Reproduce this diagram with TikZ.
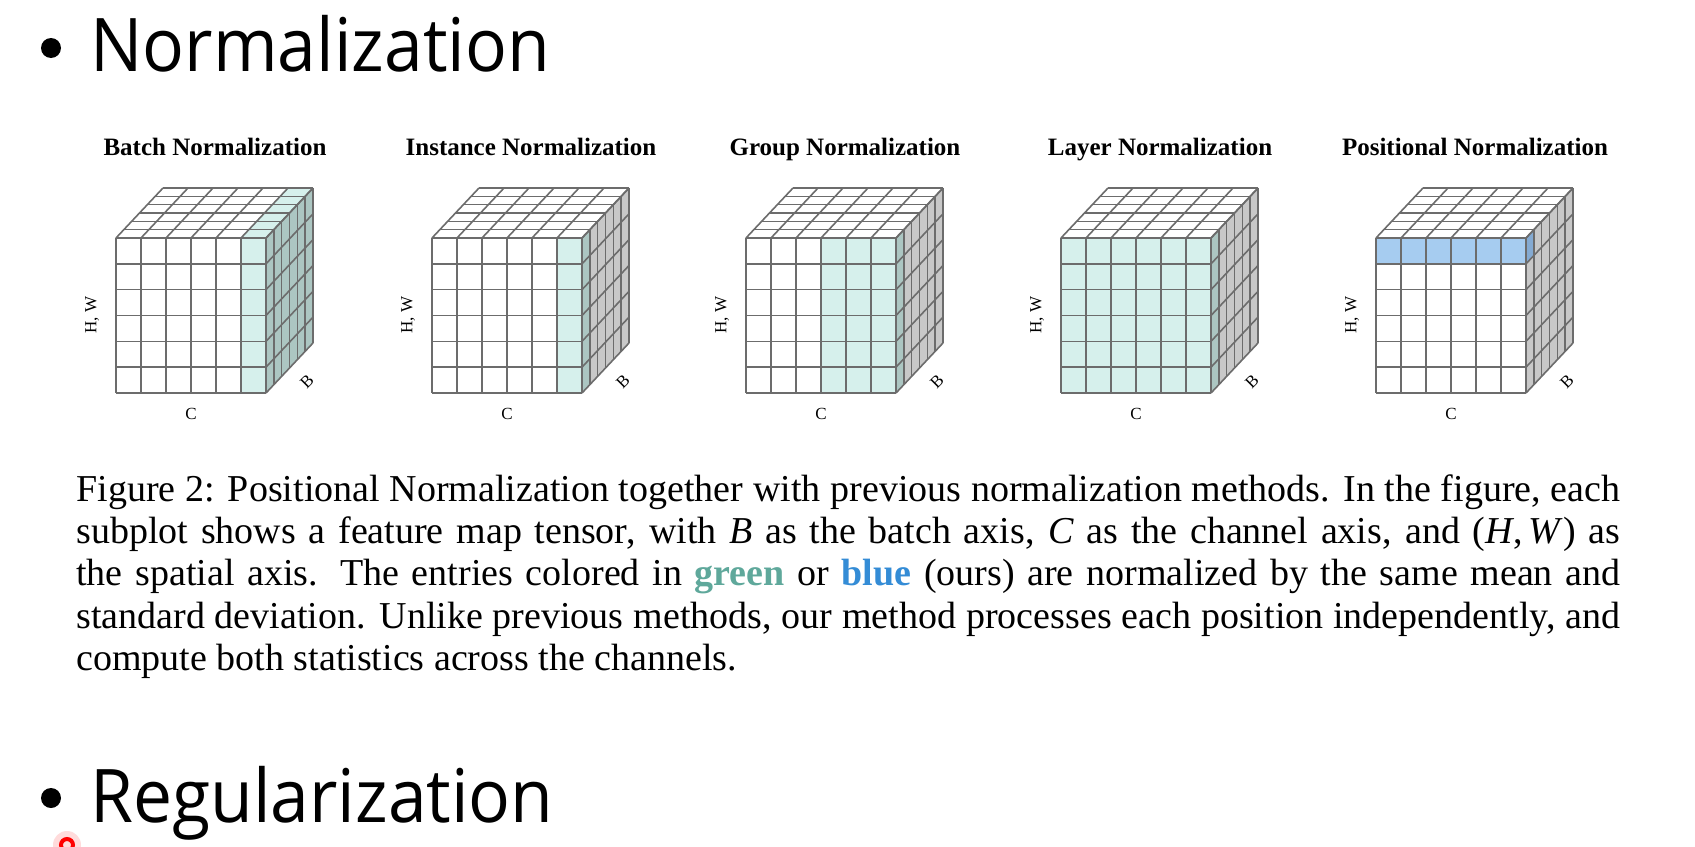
\documentclass[tikz,border=0pt]{standalone}
\usepackage{fontspec}
\usepackage{graphicx}
\setmainfont{Liberation Serif}
\newfontfamily\headfont{Open Sans}
\usetikzlibrary{positioning}

\definecolor{gridgray}{RGB}{108,108,108}
\definecolor{sidegray}{RGB}{200,200,200}
\definecolor{normgreen}{RGB}{214,240,236}
\definecolor{greenside}{RGB}{172,198,194}
\definecolor{normblue}{RGB}{166,204,240}
\definecolor{blueside}{RGB}{132,170,210}
\definecolor{capgreen}{RGB}{95,168,155}
\definecolor{capblue}{RGB}{52,140,214}

\tikzset{
  gridline/.style={draw=gridgray, line width=0.8pt},
  cubetitle/.style={font=\bfseries\fontsize{12.5}{15}\selectfont, anchor=base, inner sep=0pt},
  axislabel/.style={font=\fontsize{8.5}{10}\selectfont, inner sep=0pt},
  heading/.style={font=\headfont\fontsize{37}{44}\selectfont, anchor=base west, inner sep=0pt},
}

% one feature map tensor: #1 left x, #2 name, #3 title, #4 coloured cells
\newcommand\tensorcube[4]{%
  \begin{scope}[shift={(#1,238)}]
    \fill[white] (0,0) rectangle (150,155);
    \fill[white] (0,0) -- (150,0) -- ++(47,-50) -- (47,-50) -- cycle;
    \fill[sidegray] (150,0) -- ++(47,-50) -- ++(0,155) -- (150,155) -- cycle;
    #4
    \foreach \k in {0,...,6} {
      \draw[gridline] ({\k*25},0) -- ({\k*25},155);
      \draw[gridline] (0,{\k*155/6}) -- (150,{\k*155/6});
      \draw[gridline] ({\k*25},0) -- ++(47,-50);
      \draw[gridline] ({\k*47/6},{-\k*50/6}) -- ++(150,0);
      \draw[gridline] ({150+\k*47/6},{-\k*50/6}) -- ++(0,155);
      \draw[gridline] (150,{\k*155/6}) -- ++(47,-50);
    }
    \node[cubetitle] (#2-title) at (99,-83) {#3};
    \node[axislabel, rotate=90] (#2-hw) at (-24,77) {H, W};
    \node[axislabel] (#2-c) at (75,176) {C};
    \node[axislabel, rotate=45] (#2-b) at (191,144) {B};
  \end{scope}}

\begin{document}
\begin{tikzpicture}[x=0.5pt, y=-0.5pt]
\useasboundingbox (0,0) rectangle (1695,846);
\fill[white] (0,0) rectangle (1695,846);

% slide headings
\fill (51,48) circle[radius=5pt];
\node[heading] (norm) at (90,71) {\scalebox{0.94}[1]{Normalization}};
\fill (51,798) circle[radius=5pt];
\node[heading] (reg) at (90,822) {\scalebox{0.94}[1]{Regularization}};

% the five tensors
\tensorcube{116}{bn}{Batch Normalization}{%
  \fill[normgreen] (125,0) rectangle (150,155);
  \fill[normgreen] (125,0) -- (150,0) -- ++(47,-50) -- ++(-25,0) -- cycle;
  \fill[greenside] (150,0) -- ++(47,-50) -- ++(0,155) -- (150,155) -- cycle;}
\tensorcube{432}{in}{Instance Normalization}{%
  \fill[normgreen] (125,0) rectangle (150,155);
  \fill[greenside] (150,0) -- ++({47/6},{-50/6}) -- ++(0,155) -- (150,155) -- cycle;}
\tensorcube{746}{gn}{Group Normalization}{%
  \fill[normgreen] (75,0) rectangle (150,155);
  \fill[greenside] (150,0) -- ++({47/6},{-50/6}) -- ++(0,155) -- (150,155) -- cycle;}
\tensorcube{1061}{ln}{Layer Normalization}{%
  \fill[normgreen] (0,0) rectangle (150,155);
  \fill[greenside] (150,0) -- ++({47/6},{-50/6}) -- ++(0,155) -- (150,155) -- cycle;}
\tensorcube{1376}{pn}{Positional Normalization}{%
  \fill[normblue] (0,0) rectangle (150,{155/6});
  \fill[blueside] (150,0) -- ++({47/6},{-50/6}) -- ++(0,{155/6}) -- (150,{155/6}) -- cycle;}

% caption
\node[anchor=north west, inner sep=0pt, align=left,
      font=\fontsize{19}{21.2}\selectfont] (caption) at (76,474) {%
  \makebox[772pt][s]{Figure 2: Positional Normalization together with previous normalization methods. In the figure, each}\\
  \makebox[772pt][s]{subplot shows a feature map tensor, with \textit{B} as the batch axis, \textit{C} as the channel axis, and (\textit{H},\,\textit{W}) as}\\
  \makebox[772pt][s]{the spatial axis. The entries colored in \textcolor{capgreen}{\textbf{green}} or \textcolor{capblue}{\textbf{blue}} (ours) are normalized by the same mean and}\\
  \makebox[772pt][s]{standard deviation. Unlike previous methods, our method processes each position independently, and}\\
  compute both statistics across the channels.};

% pointer mark
\fill[red!20, opacity=0.7] (67,845) circle[radius=7pt];
\draw[red, line width=2pt] (67,845) circle[radius=3pt];
\end{tikzpicture}
\end{document}
